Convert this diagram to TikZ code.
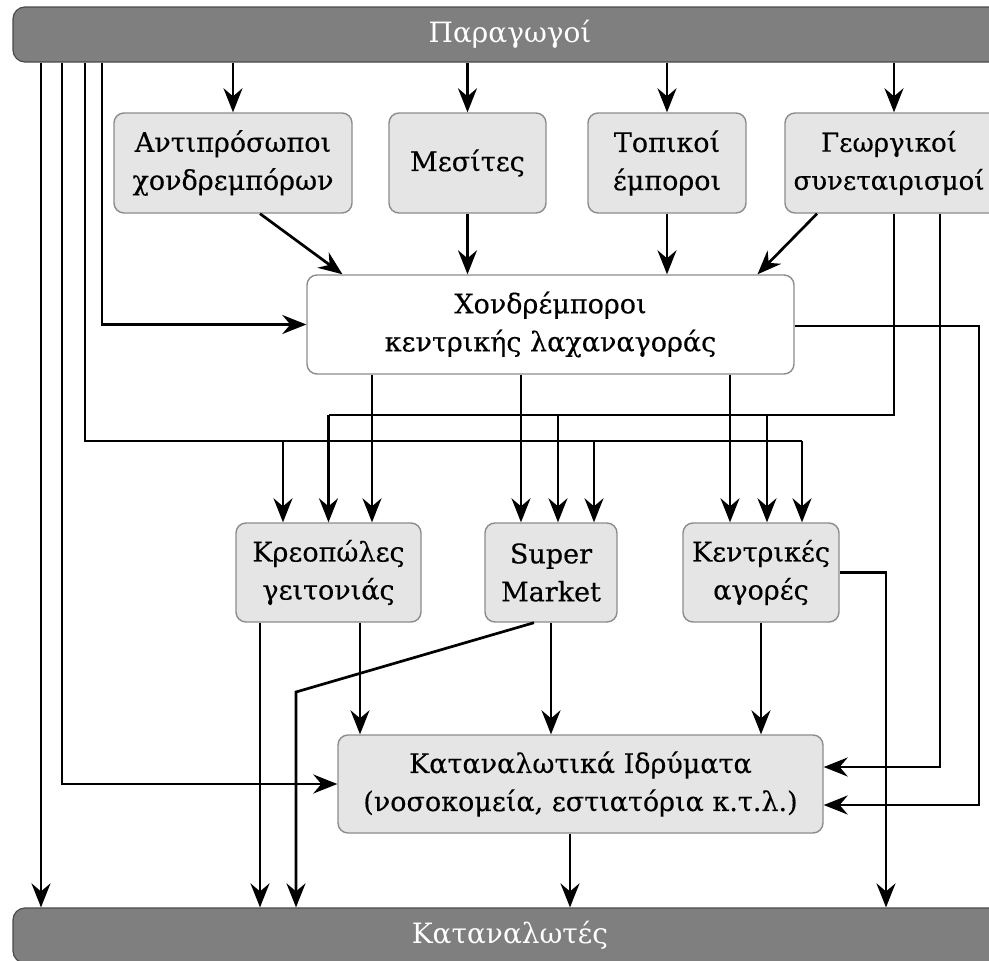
\documentclass[tikz,border=0pt]{standalone}
\usepackage{fontspec}
\setmainfont[FakeBold=0.35]{DejaVu Serif}
\newfontfamily\barfont{DejaVu Serif}
\usetikzlibrary{arrows.meta}
\definecolor{bargray}{HTML}{7F7F7F}
\definecolor{bardark}{HTML}{4A4A4A}
\definecolor{boxfill}{HTML}{E5E5E5}
\definecolor{boxline}{HTML}{8C8C8C}
\begin{document}
\begin{tikzpicture}[x=1pt,y=-1pt,
  box/.style={draw=boxline, fill=boxfill, rounded corners=10pt, line width=1.4pt,
    align=center, inner sep=0pt, font=\fontsize{27}{38}\selectfont},
  whitebox/.style={box, fill=white},
  lbl/.style={align=center, inner sep=0pt, font=\fontsize{26}{38}\selectfont},
  bar/.style={draw=bardark, fill=bargray, rounded corners=12pt, line width=1.2pt,
    minimum width=994pt, minimum height=55pt, inner sep=0pt, text=white,
    font=\barfont\fontsize{28}{38}\selectfont},
  arr/.style={line width=2.7pt, -{Stealth[length=24pt,width=19pt,inset=8pt]}},
  ln/.style={line width=2.7pt}]
\useasboundingbox (0,0) rectangle (989,961);
\fill[white] (0,0) rectangle (989,961);
% bars
\node[bar] (P) at (510,34.5) {Παραγωγοί};
\node[bar] (C) at (510,935.5) {Καταναλωτές};
% top row
\node[box, minimum width=238pt, minimum height=100pt] (A) at (233,163) {Αντιπρόσωποι\\χονδρεμπόρων};
\node[box, minimum width=157pt, minimum height=100pt] (M) at (467.5,163) {Μεσίτες};
\node[box, minimum width=158pt, minimum height=100pt] (T) at (667,163) {Τοπικοί\\έμποροι};
\node[box, minimum width=218pt, minimum height=100pt] (G) at (894,163) {};
\node[lbl] (Gt) at (889,163) {Γεωργικοί\\συνεταιρισμοί};
% wholesalers
\node[whitebox, minimum width=487pt, minimum height=99pt] (X) at (550.5,324.5) {Χονδρέμποροι\\κεντρικής λαχαναγοράς};
% middle row
\node[box, minimum width=185pt, minimum height=99pt] (K) at (328.5,572.5) {Κρεοπώλες\\γειτονιάς};
\node[box, minimum width=132pt, minimum height=99pt] (S) at (551,572.5) {Super\\Market};
\node[box, minimum width=156pt, minimum height=99pt] (KA) at (761,572.5) {Κεντρικές\\αγορές};
% institutions
\node[box, minimum width=485pt, minimum height=98pt] (I) at (580.5,784) {Καταναλωτικά Ιδρύματα\\(νοσοκομεία, εστιατόρια κ.τ.λ.)};

% coordinates
\coordinate (l1) at (41,0);
\coordinate (l2) at (62,0);
\coordinate (l3) at (85,441);
\coordinate (l4) at (102,0);
\coordinate (g1) at (894,415);
\coordinate (g2) at (940,0);
\coordinate (xr) at (979,0);
\coordinate (kr) at (886,0);
\coordinate (sd) at (296,692);
\coordinate (iu) at ([yshift=17pt]I.east);
\coordinate (id) at ([yshift=-21pt]I.east);

% producers to top row
\draw[arr] (P.south -| A.north) -- (A.north);
\draw[arr] (P.south -| M.north) -- (M.north);
\draw[arr] (P.south -| T.north) -- (T.north);
\draw[arr] (P.south -| G.north) -- (G.north);

% top row to wholesalers
\draw[arr] ([xshift=27pt]A.south) -- ([xshift=-208pt]X.north);
\draw[arr] (M.south) -- (M.south |- X.north);
\draw[arr] (T.south) -- (T.south |- X.north);
\draw[arr] ([xshift=-77pt]G.south) -- ([xshift=207pt]X.north);

% producers direct lines
\draw[arr] (P.south -| l1) -- (C.north -| l1);
\draw[arr] (P.south -| l2) |- (I.west);
\draw[arr] (P.south -| l4) |- (X.west);
\draw[ln] (P.south -| l3) -- (l3) -- ([xshift=41pt]KA.north |- l3);
\draw[arr] ([xshift=41pt]KA.north |- l3) -- ([xshift=41pt]KA.north);
\draw[arr] ([xshift=-45.5pt]K.north |- l3) -- ([xshift=-45.5pt]K.north);
\draw[arr] ([xshift=43pt]S.north |- l3) -- ([xshift=43pt]S.north);

% cooperatives lines
\draw[ln] (G.south -| g1) -- (g1) -- (K.north |- g1);
\draw[arr] (K.north |- g1) -- (K.north);
\draw[arr] ([xshift=7pt]S.north |- g1) -- ([xshift=7pt]S.north);
\draw[arr] ([xshift=6pt]KA.north |- g1) -- ([xshift=6pt]KA.north);
\draw[arr] (G.south -| g2) |- (iu);

% wholesalers out
\draw[arr] ([yshift=-1.5pt]X.east) -| (xr |- id) -- (id);
\draw[arr] ([xshift=43.5pt]K.north |- X.south) -- ([xshift=43.5pt]K.north);
\draw[arr] ([xshift=-30pt]S.north |- X.south) -- ([xshift=-30pt]S.north);
\draw[arr] ([xshift=-31pt]KA.north |- X.south) -- ([xshift=-31pt]KA.north);

% middle row out
\draw[arr] ([xshift=-68.5pt]K.south) -- ([xshift=-68.5pt]K.south |- C.north);
\draw[arr] ([xshift=31.5pt]K.south) -- ([xshift=31.5pt]K.south |- I.north);
\draw[arr] ([xshift=-17pt]S.south) -- (sd) -- (sd |- C.north);
\draw[arr] (S.south) -- (S.south |- I.north);
\draw[arr] (KA.south) -- (KA.south |- I.north);
\draw[arr] (KA.east) -| (kr |- C.north);

% institutions to consumers
\draw[arr] ([xshift=-10.5pt]I.south) -- ([xshift=-10.5pt]I.south |- C.north);
\end{tikzpicture}
\end{document}
